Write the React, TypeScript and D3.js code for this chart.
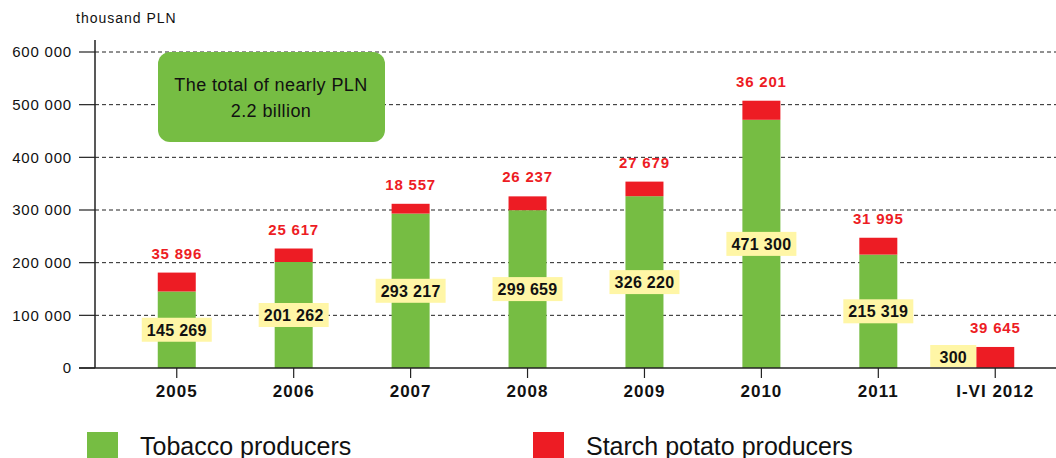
import React, { useEffect, useRef } from 'react';
import * as d3 from 'd3';

const categories = ['2005', '2006', '2007', '2008', '2009', '2010', '2011', 'I-VI 2012'];
const tobacco = [145269, 201262, 293217, 299659, 326220, 471300, 215319, 300];
const starch = [35896, 25617, 18557, 26237, 27679, 36201, 31995, 39645];
const yTicks = [0, 100000, 200000, 300000, 400000, 500000, 600000];
const legendLabels = ['Tobacco producers', 'Starch potato producers'];

const GREEN = '#76bd43';
const RED = '#ed1c24';
const YELLOW = '#fff6a6';

const fmt = (v: number) => d3.format(',')(v).replace(/,/g, ' ');

const App = () => {
  const svgRef = useRef<SVGSVGElement>(null);

  useEffect(() => {
    const width = 1056;
    const height = 458;
    const svg = d3.select(svgRef.current);
    svg.selectAll('*').remove();
    svg.attr('width', width).attr('height', height);

    const font = 'Arial, "Liberation Sans", sans-serif';
    const x0 = 95;
    const x = d3.scaleBand().domain(categories).range([118, 1054]).paddingInner(0.675).paddingOuter(0.34);
    const y = d3.scaleLinear().domain([0, 600000]).range([368, 52]);

    // grid
    svg.append('g')
      .selectAll('line')
      .data(yTicks.filter(d => d > 0))
      .enter().append('line')
      .attr('x1', x0).attr('x2', width)
      .attr('y1', d => y(d)).attr('y2', d => y(d))
      .attr('stroke', '#222').attr('stroke-width', 1).attr('stroke-dasharray', '4,3');

    // y ticks and labels
    svg.append('g')
      .selectAll('line')
      .data(yTicks)
      .enter().append('line')
      .attr('x1', 79).attr('x2', x0)
      .attr('y1', d => y(d)).attr('y2', d => y(d))
      .attr('stroke', '#222').attr('stroke-width', 1.2);
    svg.append('g')
      .selectAll('text')
      .data(yTicks)
      .enter().append('text')
      .attr('x', 72).attr('y', d => y(d)).attr('dy', '0.36em')
      .attr('text-anchor', 'end')
      .attr('font-family', font).attr('font-size', 15).attr('letter-spacing', 0.8).attr('fill', '#111')
      .text(d => fmt(d));

    svg.append('text')
      .attr('x', 76).attr('y', 23)
      .attr('font-family', font).attr('font-size', 14).attr('letter-spacing', 1).attr('fill', '#111')
      .text('thousand PLN');

    // bars
    const bw = x.bandwidth();
    const g = svg.append('g');
    g.selectAll('.tob')
      .data(tobacco)
      .enter().append('rect')
      .attr('x', (d, i) => x(categories[i])!)
      .attr('y', d => y(d))
      .attr('width', bw)
      .attr('height', d => y(0) - y(d))
      .attr('fill', GREEN);
    g.selectAll('.sta')
      .data(starch)
      .enter().append('rect')
      .attr('x', (d, i) => x(categories[i])!)
      .attr('y', (d, i) => y(d + tobacco[i]))
      .attr('width', bw)
      .attr('height', d => y(0) - y(d))
      .attr('fill', RED);

    // axes lines
    svg.append('line')
      .attr('x1', x0).attr('x2', x0).attr('y1', 40).attr('y2', 368)
      .attr('stroke', '#222').attr('stroke-width', 1.5);
    svg.append('line')
      .attr('x1', 79).attr('x2', width).attr('y1', 368).attr('y2', 368)
      .attr('stroke', '#222').attr('stroke-width', 1.5);
    svg.append('g')
      .selectAll('line')
      .data(categories)
      .enter().append('line')
      .attr('x1', d => x(d)! + bw / 2).attr('x2', d => x(d)! + bw / 2)
      .attr('y1', 368).attr('y2', 378)
      .attr('stroke', '#222').attr('stroke-width', 1.2);
    svg.append('g')
      .selectAll('text')
      .data(categories)
      .enter().append('text')
      .attr('x', d => x(d)! + bw / 2).attr('y', 397)
      .attr('text-anchor', 'middle')
      .attr('font-family', font).attr('font-size', 17).attr('letter-spacing', 1).attr('font-weight', 'bold').attr('fill', '#111')
      .text(d => d);

    // red value labels
    svg.append('g')
      .selectAll('text')
      .data(starch)
      .enter().append('text')
      .attr('x', (d, i) => x(categories[i])! + bw / 2)
      .attr('y', (d, i) => y(d + tobacco[i]) - 14)
      .attr('text-anchor', 'middle')
      .attr('font-family', font).attr('font-size', 15).attr('letter-spacing', 0.8).attr('font-weight', 'bold').attr('fill', RED)
      .text(d => fmt(d));

    // tobacco value labels
    const lbl = svg.append('g')
      .selectAll('g')
      .data(tobacco)
      .enter().append('g')
      .attr('transform', (d, i) => {
        const cx = x(categories[i])! + bw / 2;
        const small = y(0) - y(d) < 30;
        const cy = small ? y(0) - 11 : (y(d) + y(0)) / 2;
        return `translate(${small ? cx - 42 : cx},${cy})`;
      });
    lbl.append('rect')
      .attr('x', d => (d < 1000 ? -23 : -35)).attr('y', -12)
      .attr('width', d => (d < 1000 ? 46 : 70)).attr('height', d => (d < 1000 ? 22 : 24))
      .attr('fill', YELLOW);
    lbl.append('text')
      .attr('text-anchor', 'middle').attr('dy', '0.36em')
      .attr('font-family', font).attr('font-size', 16).attr('letter-spacing', 0.3).attr('font-weight', 'bold').attr('fill', '#111')
      .text(d => fmt(d));

    // annotation box
    svg.append('rect')
      .attr('x', 158).attr('y', 52).attr('width', 227).attr('height', 90)
      .attr('rx', 12).attr('fill', GREEN);
    svg.append('text')
      .attr('x', 271).attr('y', 91)
      .attr('text-anchor', 'middle')
      .attr('font-family', font).attr('font-size', 18).attr('letter-spacing', 0.4).attr('fill', '#111')
      .text('The total of nearly PLN');
    svg.append('text')
      .attr('x', 271).attr('y', 117)
      .attr('text-anchor', 'middle')
      .attr('font-family', font).attr('font-size', 18).attr('letter-spacing', 0.4).attr('fill', '#111')
      .text('2.2 billion');

    // legend
    const lg = svg.append('g')
      .selectAll('g')
      .data(legendLabels)
      .enter().append('g')
      .attr('transform', (d, i) => `translate(${i === 0 ? 87 : 533},432)`);
    lg.append('rect')
      .attr('width', 31).attr('height', 30)
      .attr('fill', (d, i) => (i === 0 ? GREEN : RED));
    lg.append('text')
      .attr('x', 53).attr('y', 23)
      .attr('font-family', font).attr('font-size', 25).attr('fill', '#111')
      .text(d => d);
  }, []);

  return <svg ref={svgRef} style={{ position: 'absolute', left: 0, top: 0 }}></svg>;
};

export default App;
